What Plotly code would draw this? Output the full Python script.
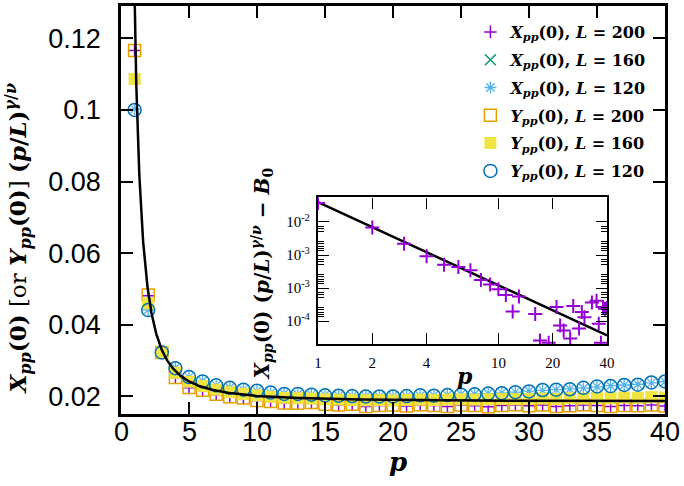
import numpy as np
import plotly.graph_objects as go

# ---------------- data ----------------
p = list(range(1, 41))

X200 = [0.1166, 0.0481, 0.0322, 0.0252, 0.0224, 0.0216, 0.0205, 0.0199, 0.0196, 0.0189,
        0.0186, 0.0181, 0.0181, 0.0182, 0.0178, 0.0176, 0.0177, 0.0172, 0.0175, 0.0176,
        0.0173, 0.0176, 0.0175, 0.0172, 0.0176, 0.0174, 0.0171, 0.0175, 0.0176, 0.0174,
        0.0176, 0.0172, 0.0174, 0.0176, 0.0175, 0.0172, 0.0175, 0.0174, 0.0176, 0.0173]
X160 = [0.1086, 0.0460, 0.0323, 0.0266, 0.0241, 0.0229, 0.0219, 0.0212, 0.0207, 0.0203,
        0.0199, 0.0196, 0.0195, 0.0194, 0.0192, 0.0191, 0.0190, 0.0189, 0.0190, 0.0189,
        0.0190, 0.0191, 0.0190, 0.0191, 0.0192, 0.0191, 0.0192, 0.0193, 0.0192, 0.0193,
        0.0194, 0.0193, 0.0195, 0.0194, 0.0196, 0.0195, 0.0197, 0.0196, 0.0198, 0.0197]
X120 = [0.1002, 0.0442, 0.0322, 0.0280, 0.0254, 0.0243, 0.0231, 0.0225, 0.0219, 0.0215,
        0.0210, 0.0208, 0.0206, 0.0205, 0.0204, 0.0202, 0.0201, 0.0201, 0.0200, 0.0201,
        0.0201, 0.0202, 0.0203, 0.0204, 0.0206, 0.0207, 0.0208, 0.0210, 0.0212, 0.0215,
        0.0217, 0.0219, 0.0221, 0.0223, 0.0227, 0.0230, 0.0232, 0.0234, 0.0238, 0.0241]
Y200 = [0.1166, 0.0483, 0.0323, 0.0253, 0.0225, 0.0217, 0.0206, 0.0199, 0.0196, 0.0189,
        0.0186, 0.0182, 0.0181, 0.0183, 0.0178, 0.0176, 0.0178, 0.0172, 0.0175, 0.0176,
        0.0173, 0.0177, 0.0175, 0.0172, 0.0176, 0.0175, 0.0171, 0.0175, 0.0177, 0.0174,
        0.0176, 0.0172, 0.0174, 0.0177, 0.0175, 0.0172, 0.0175, 0.0174, 0.0176, 0.0173]
Y160 = [0.1086, 0.0460, 0.0323, 0.0266, 0.0241, 0.0229, 0.0219, 0.0212, 0.0207, 0.0203,
        0.0199, 0.0196, 0.0195, 0.0194, 0.0192, 0.0191, 0.0190, 0.0189, 0.0190, 0.0189,
        0.0190, 0.0191, 0.0190, 0.0191, 0.0192, 0.0191, 0.0192, 0.0193, 0.0192, 0.0193,
        0.0194, 0.0193, 0.0195, 0.0194, 0.0196, 0.0195, 0.0197, 0.0196, 0.0198, 0.0197]
Y120 = [0.1000, 0.0441, 0.0323, 0.0279, 0.0254, 0.0242, 0.0231, 0.0224, 0.0219, 0.0216,
        0.0211, 0.0207, 0.0207, 0.0205, 0.0203, 0.0202, 0.0201, 0.0200, 0.0200, 0.0200,
        0.0201, 0.0203, 0.0202, 0.0204, 0.0205, 0.0206, 0.0208, 0.0209, 0.0212, 0.0214,
        0.0218, 0.0219, 0.0220, 0.0224, 0.0228, 0.0229, 0.0232, 0.0233, 0.0239, 0.0242]

# inset: X_pp(0)(p/L)^{gamma/nu} - B0 for L = 200 (visible points only)
p_inset = [1, 2, 3, 4, 5, 6, 7, 8, 9, 10, 11, 12, 13, 16, 17, 19, 21, 22, 23, 25,
           26, 28, 29, 30, 33, 35, 36, 37, 38, 39, 40]
v_inset = [0.0187, 0.0083, 0.00484, 0.00319, 0.00242, 0.00224, 0.00201, 0.00145, 0.00125, 0.00107,
           0.00088, 0.00051, 0.00084, 0.00047, 0.000195, 0.000180, 0.00059, 0.00032, 0.00027, 0.000207,
           0.00061, 0.00029, 0.00050, 0.00042, 0.00069, 0.00073, 0.00034, 0.00018, 0.00059, 0.00056,
           0.00057]

# fit parameters
FIT_A, FIT_OMEGA, FIT_B0 = 0.110, 1.85, 0.0186        # main: A p^-omega + B0
INSET_A, INSET_SLOPE = 0.0193, 1.2                    # inset: A p^-slope

x_ticks = [0, 5, 10, 15, 20, 25, 30, 35, 40]
x_ticktext = [str(v) for v in x_ticks]
y_ticks = [0.02, 0.04, 0.06, 0.08, 0.10, 0.12]
y_ticktext = ["0.02", "0.04", "0.06", "0.08", "0.1", "0.12"]
inset_x_ticks = [1, 2, 4, 10, 20, 40]
inset_y_ticks = [1e-2, 1e-2 / 3, 1e-2 / 9, 1e-2 / 27]
inset_y_ticktext = ["10<sup>-2</sup>", "10<sup>-3</sup>", "10<sup>-3</sup>", "10<sup>-4</sup>"]

# ---------------- styles ----------------
PURPLE, GREEN, SKY, ORANGE, YELLOW, BLUE = "#9400d3", "#009e73", "#56b4e9", "#e69f00", "#f0e442", "#0072b2"
SERIF = "DejaVu Serif"
SANS = "Liberation Sans"

fig = go.Figure()

def lbl(v, L):
    return f"<b><i>{v}</i></b><sub><b><i>pp</i></b></sub><b>(0), <i>L</i> = {L}</b>"

series = [
    (X200, lbl("X", 200), dict(symbol="cross-thin-open", size=9, line=dict(color=PURPLE, width=1.5), color=PURPLE)),
    (X160, lbl("X", 160), dict(symbol="x-thin-open", size=11, line=dict(color=GREEN, width=1.5), color=GREEN)),
    (X120, lbl("X", 120), dict(symbol="asterisk-open", size=10, line=dict(color=SKY, width=1.3), color=SKY)),
    (Y200, lbl("Y", 200), dict(symbol="square-open", size=12, line=dict(color=ORANGE, width=1.5), color=ORANGE)),
    (Y160, lbl("Y", 160), dict(symbol="square", size=12, line=dict(color=YELLOW, width=0), color=YELLOW)),
    (Y120, lbl("Y", 120), dict(symbol="circle-open", size=13, line=dict(color=BLUE, width=1.5), color=BLUE)),
]
for i, (vals, name, mk) in enumerate(series):
    fig.add_trace(go.Scatter(x=p, y=vals, mode="markers", name=name, marker=mk,
                             legendgroup=f"g{i}", xaxis="x", yaxis="y"))

pc = np.geomspace(0.9, 40, 400)
fig.add_trace(go.Scatter(x=pc, y=FIT_A * pc ** (-FIT_OMEGA) + FIT_B0, mode="lines",
                         line=dict(color="black", width=2.5), showlegend=False, xaxis="x", yaxis="y"))

pi = np.geomspace(1, 40, 100)
fig.add_trace(go.Scatter(x=pi, y=INSET_A * pi ** (-INSET_SLOPE), mode="lines",
                         line=dict(color="black", width=2.5), showlegend=False, xaxis="x2", yaxis="y2"))
fig.add_trace(go.Scatter(x=p_inset, y=v_inset, mode="markers", showlegend=False,
                         marker=dict(symbol="cross-thin-open", size=10, color=PURPLE,
                                     line=dict(color=PURPLE, width=2)),
                         xaxis="x2", yaxis="y2"))

# minor ticks on inset y axis (gnuplot-like clusters)
px_per = np.log10(3) / 33.33
offs = [4.4, 6.7, 10, 20, 21.7, 24.4, 26.7, 29]
minor_vals = [t * 10 ** (-o * px_per) for t in inset_y_ticks[:3] for o in offs]

axis_common = dict(showline=True, linecolor="black", mirror="ticks", ticks="inside",
                   showgrid=False, zeroline=False, tickcolor="black")

fig.update_layout(
    width=684, height=486,
    margin=dict(l=121, r=19, t=3, b=72),
    paper_bgcolor="white", plot_bgcolor="white",
    xaxis=dict(range=[0, 40], tickvals=x_ticks, ticklen=12, tickwidth=1.5, linewidth=2.5,
               showticklabels=False, **axis_common),
    yaxis=dict(range=[0.0151, 0.129], tickvals=y_ticks, ticktext=y_ticktext, ticklen=12, tickwidth=1.5,
               linewidth=2.5, tickfont=dict(family=SANS, size=27, color="black"), ticklabelstandoff=12,
               **axis_common),
    xaxis2=dict(type="log", range=[0, np.log10(40)], domain=[0.3621, 0.8934], anchor="y2",
                tickvals=inset_x_ticks, ticktext=[str(v) for v in inset_x_ticks], ticklen=11, tickwidth=1.3,
                linewidth=2.2, tickfont=dict(family="Liberation Serif", size=15, color="black"),
                ticklabelstandoff=4, **axis_common),
    yaxis2=dict(type="log", range=[-3.766, -1.646], domain=[0.1709, 0.5308], anchor="x2",
                tickvals=inset_y_ticks, ticktext=inset_y_ticktext, ticklen=11, tickwidth=1.3,
                linewidth=2.2, tickfont=dict(family="Liberation Serif", size=15, color="black"),
                minor=dict(tickmode="array", tickvals=minor_vals, ticks="inside", ticklen=6,
                           tickcolor="black", tickwidth=1, showgrid=False),
                ticklabelstandoff=3, **axis_common),
    legend=dict(x=0.975, y=0.978, xanchor="right", yanchor="top", bgcolor="rgba(0,0,0,0)",
                font=dict(family=SERIF, size=16, color="black"), traceorder="grouped",
                tracegroupgap=4, itemwidth=30),
    showlegend=True,
)

# main x tick labels (placed as text at the tick values, closer to the axis as in the reference)
for v, t in zip(x_ticks, x_ticktext):
    fig.add_annotation(text=t, x=v, xref="x", y=-0.0443, yref="paper", showarrow=False,
                       xanchor="center", yanchor="middle",
                       font=dict(family=SANS, size=27, color="black"))

ylab = ("<b><i>X</i></b><sub><b><i>pp</i></b></sub><b>(0)</b> [or "
        "<b><i>Y</i></b><sub><b><i>pp</i></b></sub><b>(0)</b>] "
        "<b>(<i>p</i>/<i>L</i>)</b><sup><b><i>γ</i>/<i>ν</i></b></sup>")
inset_ylab = ("<b><i>X</i></b><sub><b><i>pp</i></b></sub><b>(0) (<i>p</i>/<i>L</i>)</b>"
              "<sup><b><i>γ</i>/<i>ν</i></b></sup><b> − <i>B</i></b><sub><b>0</b></sub>")

fig.add_annotation(text=ylab, xref="paper", yref="paper", x=-0.1893, y=0.430, textangle=-90,
                   showarrow=False, xanchor="center", yanchor="middle",
                   font=dict(family=SERIF, size=23, color="black"))
fig.add_annotation(text="<b><i>p</i></b>", xref="paper", yref="paper", x=0.509, y=-0.118,
                   showarrow=False, xanchor="center", yanchor="middle",
                   font=dict(family=SERIF, size=26, color="black"))
fig.add_annotation(text=inset_ylab, xref="paper", yref="paper", x=0.2592, y=0.342, textangle=-90,
                   showarrow=False, xanchor="center", yanchor="middle",
                   font=dict(family=SERIF, size=20, color="black"))
fig.add_annotation(text="<b><i>p</i></b>", xref="paper", yref="paper", x=0.6324, y=0.0931,
                   showarrow=False, xanchor="center", yanchor="middle",
                   font=dict(family=SERIF, size=22, color="black"))

fig.write_html("out.html")
